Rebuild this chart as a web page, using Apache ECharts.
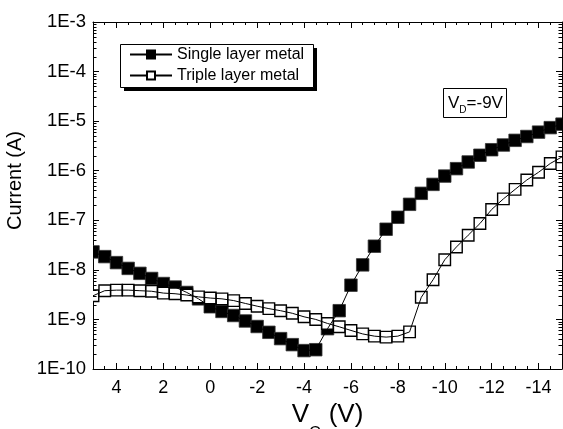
<!DOCTYPE html>
<html><head><meta charset="utf-8">
<script src="https://cdn.jsdelivr.net/npm/echarts@6/dist/echarts.min.js"></script>
<style>html,body{margin:0;padding:0;background:#fff}#c{width:563px;height:429px}</style>
</head><body><div id="c"></div>
<script>
// Gate voltage (V)
const vg = [5, 4.5, 4, 3.5, 3, 2.5, 2, 1.5, 1, 0.5, 0, -0.5, -1, -1.5, -2, -2.5, -3, -3.5, -4, -4.5,
  -5, -5.5, -6, -6.5, -7, -7.5, -8, -8.5, -9, -9.5, -10, -10.5, -11, -11.5, -12, -12.5, -13, -13.5, -14, -14.5, -15];
// Current (A)
const singleLayer = [2.3e-8, 1.85e-8, 1.4e-8, 1.07e-8, 8.5e-9, 6.7e-9, 5.3e-9, 4.5e-9, 3.5e-9, 2.6e-9,
  1.8e-9, 1.45e-9, 1.2e-9, 9.3e-10, 7.2e-10, 5.5e-10, 4.1e-10, 3.1e-10, 2.35e-10, 2.45e-10,
  6.5e-10, 1.5e-9, 4.9e-9, 1.26e-8, 3.0e-8, 6.6e-8, 1.15e-7, 2.1e-7, 3.5e-7, 5.3e-7,
  7.8e-7, 1.1e-6, 1.5e-6, 2.05e-6, 2.65e-6, 3.3e-6, 4.1e-6, 4.9e-6, 6.0e-6, 7.4e-6, 8.7e-6];
const tripleLayer = [3.0e-9, 3.8e-9, 3.9e-9, 3.9e-9, 3.8e-9, 3.7e-9, 3.4e-9, 3.3e-9, 3.1e-9, 2.85e-9,
  2.7e-9, 2.6e-9, 2.4e-9, 2.1e-9, 1.85e-9, 1.65e-9, 1.5e-9, 1.33e-9, 1.13e-9, 1.0e-9,
  8.3e-10, 7.1e-10, 6.0e-10, 5.1e-10, 4.6e-10, 4.4e-10, 4.6e-10, 5.6e-10, 2.8e-9, 6.3e-9,
  1.6e-8, 2.9e-8, 5.0e-8, 8.6e-8, 1.65e-7, 2.7e-7, 4.2e-7, 6.5e-7, 9.3e-7, 1.4e-6, 1.9e-6];
const seriesNames = ['Single layer metal', 'Triple layer metal'];
const decades = [-10, -9, -8, -7, -6, -5, -4];
const minorMultipliers = [2, 3, 4, 5, 6, 7, 8, 9];

const FONT = 'Liberation Sans, Arial, sans-serif';
const minorVals = [];
decades.forEach(k => minorMultipliers.forEach(m => minorVals.push(m * Math.pow(10, k))));

const chart = echarts.init(document.getElementById('c'), null, {renderer: 'canvas'});

function xAxisMain(pos, withLabels) {
  return {
    type: 'value', position: pos, min: -15, max: 5, splitNumber: 10, inverse: true,
    axisLine: {show: true, onZero: false, lineStyle: {color: '#000', width: 1}},
    axisTick: {show: true, inside: true, length: 6, lineStyle: {color: '#000', width: 1}},
    axisLabel: {show: withLabels, margin: 10, fontSize: 18, fontFamily: FONT, color: '#000',
      formatter: v => (Math.round(v) % 2 === 0 && Math.abs(v - Math.round(v)) < 1e-9) ? String(v) : ''},
    splitLine: {show: false}
  };
}
function xAxisMinor(pos) {
  return {
    type: 'value', position: pos, min: -15, max: 5, interval: 0.5, inverse: true,
    axisLine: {show: false, onZero: false},
    axisTick: {show: true, inside: true, length: 3, lineStyle: {color: '#000', width: 1}},
    axisLabel: {show: false}, splitLine: {show: false}
  };
}
function yAxisLog(pos, withLabels) {
  return {
    type: 'log', logBase: 10, position: pos, min: 1e-10, max: 1e-3, splitNumber: 7,
    axisLine: {show: true, onZero: false, lineStyle: {color: '#000', width: 1}},
    axisTick: {show: true, inside: true, length: 6, lineStyle: {color: '#000', width: 1}},
    axisLabel: {show: withLabels, margin: 7, fontSize: 18.5, fontFamily: FONT, color: '#000',
      formatter: v => '1E' + Math.round(Math.log10(v))},
    splitLine: {show: false}
  };
}

const bottomMain = xAxisMain('bottom', true);
bottomMain.name = '{v|V}{g|G}{v| (V)}';
bottomMain.nameLocation = 'middle';
bottomMain.nameGap = 13;
bottomMain.nameTextStyle = {
  rich: {
    v: {fontSize: 26, lineHeight: 54, fontFamily: FONT, color: '#000'},
    g: {fontSize: 16, verticalAlign: 'bottom', fontFamily: FONT, color: '#000'}
  }
};
const leftAxis = yAxisLog('left', true);
leftAxis.name = 'Current (A)';
leftAxis.nameLocation = 'middle';
leftAxis.nameGap = 58;
leftAxis.nameRotate = 90;
leftAxis.nameTextStyle = {fontSize: 20, fontFamily: FONT, color: '#000', padding: [0, 0, 0, 30]};

function markerSeries(values, fill, stroke, lw, s) {
  return {
    type: 'custom', clip: true, silent: true, xAxisIndex: 0, yAxisIndex: 0,
    data: vg.map((x, i) => [x, values[i]]),
    renderItem(params, api) {
      const p = api.coord([api.value(0), api.value(1)]);
      return {type: 'rect', shape: {x: p[0] - s / 2, y: p[1] - s / 2, width: s, height: s},
        style: {fill: fill, stroke: stroke, lineWidth: lw}};
    }
  };
}

chart.setOption({
  animation: false,
  backgroundColor: '#fff',
  grid: {left: 93, right: 1, top: 22, bottom: 60, containLabel: false, outerBoundsMode: 'none'},
  title: {
    text: '{v|V}{d|D}{v|=-9V}', left: 443, top: 88, padding: [4, 4, 3, 5],
    borderColor: '#000', borderWidth: 1, backgroundColor: '#fff',
    textStyle: {fontWeight: 'normal', fontSize: 17, lineHeight: 23, rich: {
      v: {fontSize: 17, lineHeight: 23, height: 23, fontWeight: 'normal', fontFamily: FONT, color: '#000'},
      d: {fontSize: 10, verticalAlign: 'bottom', fontWeight: 'normal', fontFamily: FONT, color: '#000'}
    }}
  },
  graphic: [
    {type: 'rect', z: 3, silent: true, left: 124, top: 48,
      shape: {width: 193, height: 43}, style: {fill: '#000'}},
    {type: 'rect', z: 3, silent: true, left: 120, top: 44,
      shape: {x: 0.5, y: 0.5, width: 193, height: 43}, style: {fill: '#fff', stroke: '#000', lineWidth: 1}}
  ],
  legend: {
    data: seriesNames, orient: 'vertical', left: 129, top: 46.5, z: 5,
    padding: 0, itemGap: 5, itemWidth: 42, itemHeight: 10,
    textStyle: {fontSize: 16, fontFamily: FONT, color: '#000'},
    selectedMode: false
  },
  xAxis: [bottomMain, xAxisMinor('bottom'), xAxisMain('top', false), xAxisMinor('top')],
  yAxis: [leftAxis, yAxisLog('right', false)],
  series: [
    {name: seriesNames[0], type: 'line', silent: true, showSymbol: false, symbol: 'rect', symbolSize: 12,
      data: vg.map((x, i) => [x, singleLayer[i]]),
      lineStyle: {color: '#000', width: 1}, itemStyle: {color: '#000', borderColor: '#000', borderWidth: 1}},
    {name: seriesNames[1], type: 'line', silent: true, showSymbol: false, symbol: 'rect', symbolSize: 12,
      data: vg.map((x, i) => [x, tripleLayer[i]]),
      lineStyle: {color: '#000', width: 1}, itemStyle: {color: '#fff', borderColor: '#000', borderWidth: 1}},
    markerSeries(singleLayer, '#000', '#333', 0.8, 12.5),
    markerSeries(tripleLayer, '#fff', '#000', 1.4, 11.5),
    {
      type: 'custom', silent: true, clip: false, xAxisIndex: 0, yAxisIndex: 0,
      data: minorVals.map(v => [0, v]),
      renderItem(params, api) {
        const cs = params.coordSys;
        const y = Math.round(api.coord([0, api.value(1)])[1]) + 0.5;
        return {type: 'group', children: [
          {type: 'line', shape: {x1: cs.x, y1: y, x2: cs.x + 3.5, y2: y}, style: {stroke: '#000', lineWidth: 1}},
          {type: 'line', shape: {x1: cs.x + cs.width, y1: y, x2: cs.x + cs.width - 3.5, y2: y}, style: {stroke: '#000', lineWidth: 1}}
        ]};
      }
    }
  ]
});
</script></body></html>
